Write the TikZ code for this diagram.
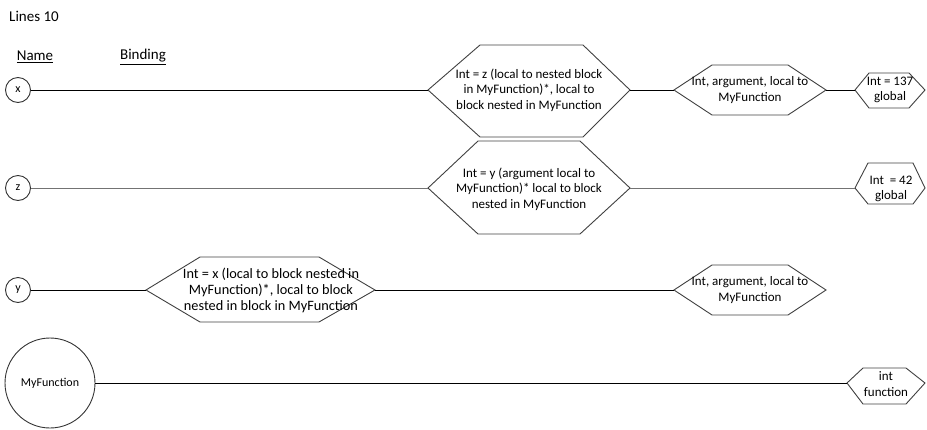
\documentclass[tikz,border=0pt]{standalone}
\usepackage{fontspec}
\setmainfont{Carlito}

\begin{document}
\begin{tikzpicture}[x=1pt, y=-1pt,
  link/.style={black, line width=0.9pt},
  greylink/.style={black!55, line width=0.9pt},
  hexline/.style={draw=black!75, line width=0.9pt},
  hextext/.style={align=center, inner sep=0pt, font=\fontsize{13}{15.6}\selectfont},
  head/.style={inner sep=0pt, font=\fontsize{15}{18}\selectfont},
  namecirc/.style={circle, draw=black!80, line width=0.9pt, inner sep=0pt, font=\fontsize{12}{14}\selectfont}]

\useasboundingbox (0,0) rectangle (927,429);

\node [head, anchor=west] (title) at (9,16) {Lines 10};
\node [head] (namehead) at (35,57) {\underline{Name}};
\node [head] (bindhead) at (143,57) {\underline{Binding}};

% names
\node [namecirc, minimum size=25] (cx) at (18,90) {x};
\node [namecirc, minimum size=25] (cz) at (18,188) {z};
\node [namecirc, minimum size=25] (cy) at (18,290) {y};
\node [namecirc, minimum size=90] (cf) at (50,383) {MyFunction};

% row x
\coordinate (x1l) at (428,90);
\coordinate (x1r) at (630,90);
\coordinate (x2l) at (674,90);
\coordinate (x2r) at (826,90);
\coordinate (x3l) at (855,90);
\coordinate (x3r) at (925,90);

\draw [hexline] (x1l) -- (480,45) -- (583,45) -- (x1r) -- (583,137) -- (480,137) -- cycle;
\draw [hexline] (x2l) -- (712,65) -- (788,65) -- (x2r) -- (788,115) -- (712,115) -- cycle;
\draw [hexline] (x3l) -- (869,73) -- (909,73) -- (x3r) -- (909,108) -- (869,108) -- cycle;

\node [hextext] (x1) at (529,90) {Int = z (local to nested block\\in MyFunction)*, local to\\block nested in MyFunction};
\node [hextext] (x2) at (750,90) {Int, argument, local to\\MyFunction};
\node [hextext] (x3) at (890,90) {Int = 137\\global};

\draw [link] (cx) -- (x1l);
\draw [link] (x1r) -- (x2l);
\draw [link] (x2r) -- (x3l);

% row z
\coordinate (z1l) at (428,188);
\coordinate (z1r) at (630,188);
\coordinate (z2l) at (855,188);
\coordinate (z2r) at (925,188);

\draw [hexline] (z1l) -- (478,141) -- (580,141) -- (z1r) -- (580,234) -- (478,234) -- cycle;
\draw [hexline] (z2l) -- (868,163) -- (913,163) -- (z2r) -- (913,204) -- (868,204) -- cycle;

\node [hextext] (z1) at (529,189) {Int = y (argument local to\\MyFunction)* local to block\\nested in MyFunction};
\node [hextext] (z2) at (891,189) {Int \ = 42\\global};

\draw [greylink] (cz) -- (z1l);
\draw [greylink] (z1r) -- (z2l);

% row y
\coordinate (y1l) at (146,290);
\coordinate (y1r) at (375,290);
\coordinate (y2l) at (674,290);
\coordinate (y2r) at (826,290);

\draw [hexline] (y1l) -- (200,257) -- (319,257) -- (y1r) -- (319,322) -- (200,322) -- cycle;
\draw [hexline] (y2l) -- (712,265) -- (788,265) -- (y2r) -- (788,315) -- (712,315) -- cycle;

\node [hextext, font=\fontsize{14.3}{16}\selectfont] (y1) at (271,290) {Int = x (local to block nested in\\MyFunction)*, local to block\\nested in block in MyFunction};
\node [hextext] (y2) at (750,290) {Int, argument, local to\\MyFunction};

\draw [link] (cy) -- (y1l);
\draw [link] (y1r) -- (y2l);

% row MyFunction
\coordinate (f1l) at (847,383);
\coordinate (f1r) at (925,383);

\draw [hexline] (f1l) -- (863,368) -- (906,368) -- (f1r) -- (906,404) -- (863,404) -- cycle;

\node [hextext] (f1) at (886,384) {int\\function};

\draw [link] (cf) -- (f1l);

\end{tikzpicture}
\end{document}
